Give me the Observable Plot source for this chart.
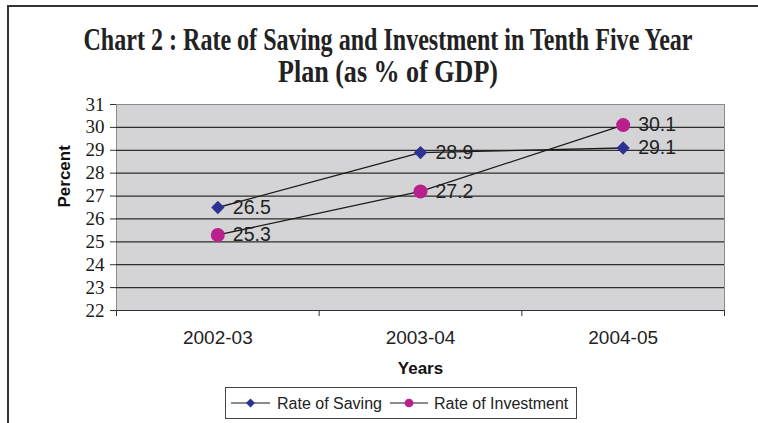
<!DOCTYPE html>
<html><head><meta charset="utf-8">
<script src="https://cdn.jsdelivr.net/npm/d3@7"></script>
<script src="https://cdn.jsdelivr.net/npm/@observablehq/plot@0.6"></script>
<style>
body{margin:0;background:#fff;}
#wrap{position:relative;width:758px;height:423px;overflow:hidden;background:#fff;font-family:"Liberation Sans",Arial,sans-serif;}
#border{position:absolute;left:7px;top:5px;width:800px;height:500px;border-left:2px solid #333;border-top:2px solid #333;}
#title,#chart,#legend{position:absolute;left:0;top:0;}
#legend{left:225px;top:387px;}
g.yserif text{font-family:"Liberation Serif","Times New Roman",serif !important;}
</style></head>
<body><div id="wrap"><div id="border"></div><svg id="title" width="758" height="100"></svg><div id="chart"></div><svg id="legend" width="352" height="33"></svg></div>
<script>
const titleLines = ["Chart 2 : Rate of Saving and Investment in Tenth Five Year", "Plan (as % of GDP)"];
const years = ["2002-03", "2003-04", "2004-05"];
const saving = [26.5, 28.9, 29.1];
const investment = [25.3, 27.2, 30.1];
const seriesNames = ["Rate of Saving", "Rate of Investment"];
const seriesColors = ["#2d3192", "#b8208e"];
const seriesSymbols = ["diamond2", "circle"];
const yTicks = [22, 23, 24, 25, 26, 27, 28, 29, 30, 31];
const xLabel = "Years";
const yLabel = "Percent";

// title
const tsvg = d3.select("#title");
const tLens = [609, 220];
const tYs = [50, 82];
titleLines.forEach((t, k) => {
  tsvg.append("text").attr("x", 0).attr("y", 0).attr("text-anchor", "middle")
    .attr("transform", `translate(388,${tYs[k]}) scale(1,1.18)`)
    .attr("font-family", "'Liberation Serif', 'Times New Roman', serif").attr("font-weight", "bold")
    .attr("font-size", 26).attr("fill", "#222")
    .attr("textLength", tLens[k]).attr("lengthAdjust", "spacingAndGlyphs").text(t);
});

const rows = [];
years.forEach((yr, i) => {
  rows.push({i: i + 0.5, year: yr, value: saving[i], s: 0});
  rows.push({i: i + 0.5, year: yr, value: investment[i], s: 1});
});

const serif = "'Liberation Serif', 'Times New Roman', serif";
const chart = Plot.plot({
  width: 758, height: 390,
  marginLeft: 116, marginRight: 34, marginTop: 104, marginBottom: 80,
  style: {background: "transparent", fontFamily: "'Liberation Sans', Arial, sans-serif", color: "#222", overflow: "visible"},
  x: {type: "linear", domain: [0, years.length], axis: null},
  y: {domain: [22, 31], axis: null},
  marks: [
    Plot.frame({fill: "#d4d4d6", stroke: "#8a8a8a"}),
    Plot.ruleY(yTicks.filter(d => d < 31), {stroke: "#2e2e2e", strokeWidth: 1.2}),
    Plot.axisY({ticks: yTicks, tickSize: 6, tickFormat: () => "", stroke: "#333", label: null}),
    Plot.text(yTicks, {y: d => d, frameAnchor: "left", dx: -12, textAnchor: "end", fontSize: 19, fontFamily: serif, fill: "#1a1a1a", ariaLabel: "ytick-labels"}),
    Plot.axisX({ticks: d3.range(years.length + 1), tickSize: 6, tickFormat: () => "", stroke: "#333", label: null}),
    Plot.axisX({ticks: years.map((_, i) => i + 0.5), tickSize: 0, tickPadding: 20, tickFormat: t => years[Math.floor(t)], fontSize: 19, fill: "#222", label: null}),
    Plot.text([yLabel], {frameAnchor: "left", dx: -52, rotate: -90, fontWeight: "bold", fontSize: 17, fill: "#111"}),
    Plot.text([xLabel], {frameAnchor: "bottom", dy: 63, fontWeight: "bold", fontSize: 17, fill: "#111"}),
    Plot.line(rows, {x: "i", y: "value", z: "s", stroke: "#1a1a1a", strokeWidth: 1.3}),
    Plot.dot(rows.filter(d => d.s === 0), {x: "i", y: "value", symbol: () => seriesSymbols[0], fill: seriesColors[0], r: 6}),
    Plot.dot(rows.filter(d => d.s === 1), {x: "i", y: "value", symbol: () => seriesSymbols[1], fill: seriesColors[1], r: 7}),
    Plot.text(rows, {x: "i", y: "value", text: d => d.value.toFixed(1), textAnchor: "start", dx: 15, fontSize: 19.5, fill: "#222"})
  ]
});
document.getElementById("chart").appendChild(chart);
d3.select(chart).selectAll('g[aria-label="ytick-labels"]').classed("yserif", true)
  .style("font-family", serif)
  .selectAll("text").style("font-family", serif).attr("font-family", serif);

// legend
const lg = d3.select("#legend");
lg.append("rect").attr("x", 0.5).attr("y", 0.5).attr("width", 351).attr("height", 31).attr("fill", "#fff").attr("stroke", "#444");
const items = [{x0: 6, x1: 45, tx: 52}, {x0: 165, x1: 203, tx: 209}];
seriesNames.forEach((name, k) => {
  const it = items[k], cy = 16;
  lg.append("line").attr("x1", it.x0).attr("x2", it.x1).attr("y1", cy).attr("y2", cy).attr("stroke", "#1a1a1a").attr("stroke-width", 1.2);
  const sym = d3.symbol(k === 0 ? d3.symbolSquare : d3.symbolCircle, k === 0 ? 40 : 60)();
  lg.append("path").attr("d", sym).attr("fill", seriesColors[k])
    .attr("transform", `translate(${(it.x0 + it.x1) / 2},${cy})` + (k === 0 ? " rotate(45)" : ""));
  lg.append("text").attr("x", it.tx).attr("y", cy + 5.5).attr("font-size", 16).attr("fill", "#222")
    .attr("font-family", "'Liberation Sans', Arial, sans-serif").text(name);
});
</script></body></html>
